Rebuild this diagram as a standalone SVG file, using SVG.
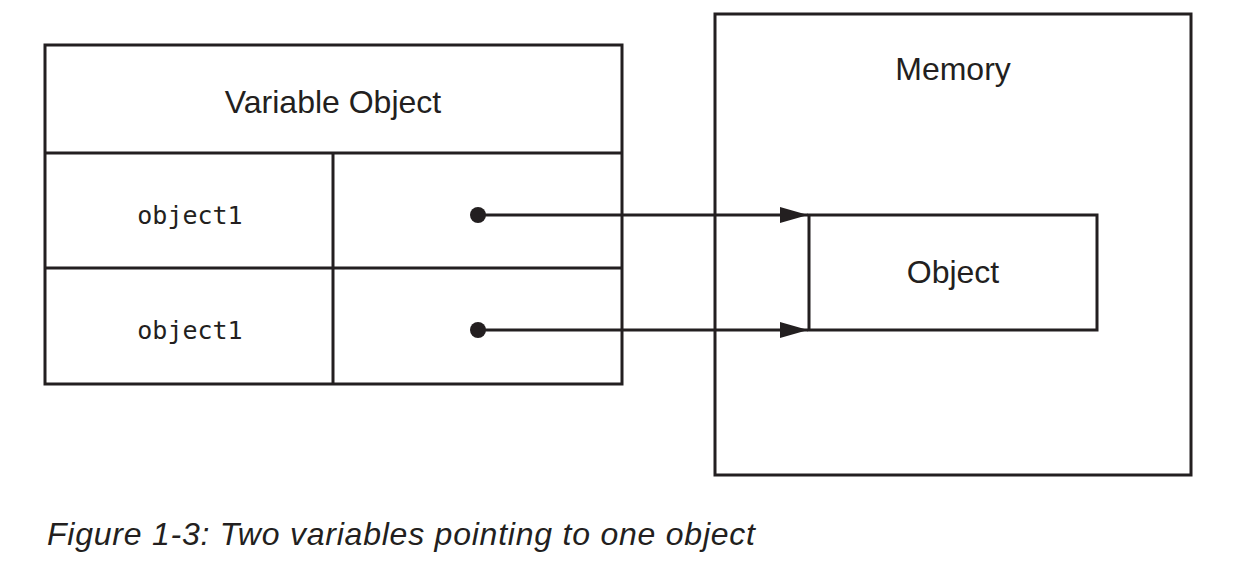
<svg xmlns="http://www.w3.org/2000/svg" width="1234" height="570" viewBox="0 0 1234 570">
<style>
.box{fill:none;stroke:#231f20;stroke-width:3}
.ln{stroke:#231f20;stroke-width:3}
.lbl{font-family:"Liberation Sans",Arial,sans-serif;font-size:32px;fill:#231f20;text-anchor:middle}
.mono{font-family:"DejaVu Sans Mono","Liberation Mono",monospace;font-size:25px;fill:#231f20;text-anchor:middle}
.cap{font-family:"Liberation Sans",Arial,sans-serif;font-style:italic;font-size:32px;fill:#231f20}
</style>
<defs>
<marker id="arr" viewBox="0 0 28 16" refX="28" refY="8" markerWidth="28" markerHeight="16" markerUnits="userSpaceOnUse" orient="auto">
<path d="M0,0 L28,8 L0,16 Z" fill="#231f20"/>
</marker>
</defs>
<rect width="1234" height="570" fill="#fff"/>
<g id="variable-object">
<rect class="box" x="45" y="45" width="577" height="339"/>
<line class="ln" x1="45" y1="153" x2="622" y2="153"/>
<line class="ln" x1="45" y1="268" x2="622" y2="268"/>
<line class="ln" x1="333" y1="153" x2="333" y2="384"/>
<text class="lbl" x="333" y="113">Variable Object</text>
<text class="mono" x="190" y="224">object1</text>
<text class="mono" x="190" y="339">object1</text>
</g>
<g id="memory">
<rect class="box" x="715" y="14" width="476" height="461"/>
<text class="lbl" x="953" y="80">Memory</text>
</g>
<g id="object">
<rect class="box" x="809" y="215" width="288" height="115"/>
<text class="lbl" x="953" y="283">Object</text>
</g>
<g id="connectors">
<circle cx="478" cy="215" r="8" fill="#231f20"/>
<line class="ln" x1="478" y1="215" x2="808" y2="215" marker-end="url(#arr)"/>
<circle cx="478" cy="330" r="8" fill="#231f20"/>
<line class="ln" x1="478" y1="330" x2="808" y2="330" marker-end="url(#arr)"/>
</g>
<text class="cap" x="47" y="545" textLength="708" lengthAdjust="spacing">Figure 1-3: Two variables pointing to one object</text>
</svg>
